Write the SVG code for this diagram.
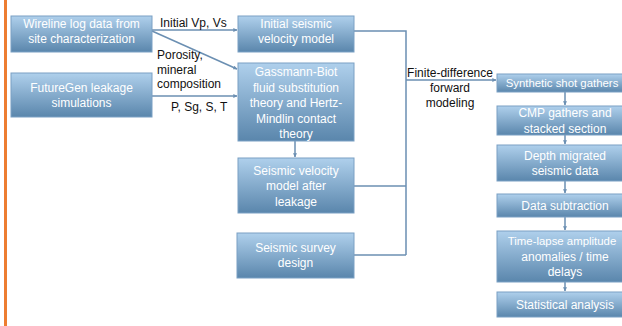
<svg xmlns="http://www.w3.org/2000/svg" width="622" height="326" viewBox="0 0 622 326">
<defs>
<linearGradient id="g" x1="0" y1="0" x2="0" y2="1">
<stop offset="0" stop-color="#afd0ec"/>
<stop offset="1" stop-color="#5a86ac"/>
</linearGradient>
<marker id="a" viewBox="0 0 6 6" refX="5.5" refY="3" markerWidth="4" markerHeight="4" orient="auto" markerUnits="userSpaceOnUse">
<path d="M0,0 L6,3 L0,6 z" fill="#6b8fb2"/>
</marker>
<style>
.box{fill:url(#g);stroke:#7aa0c4;stroke-width:1}
.bt{font-family:"Liberation Sans",Arial,sans-serif;font-size:12px;fill:#ffffff;text-anchor:middle}
.sm{font-size:11.4px}
.lb{font-family:"Liberation Sans",Arial,sans-serif;font-size:12px;fill:#111111}
.c{fill:none;stroke:#6b8fb2;stroke-width:1.5}
.ar{marker-end:url(#a)}
</style>
</defs>
<rect x="4" y="0" width="3" height="326" fill="#ed7d31"/>
<g id="connectors">
<path class="c ar" d="M152,30 L237,30"/>
<path class="c ar" d="M152,31 L237,69"/>
<path class="c ar" d="M152,96 L237,96"/>
<path class="c ar" d="M295,141 L295,157"/>
<path class="c" d="M354,31 L406,31 L406,255"/>
<path class="c" d="M354,186 L406,186"/>
<path class="c" d="M354,255 L406,255"/>
<path class="c ar" d="M406,80 L496,80"/>
<path class="c ar" d="M565,92 L565,105"/>
<path class="c ar" d="M565,135 L565,144"/>
<path class="c ar" d="M565,181 L565,193"/>
<path class="c ar" d="M565,217 L565,230"/>
<path class="c ar" d="M565,282 L565,291"/>
<text class="lb" x="160" y="27">Initial Vp, Vs</text>
<text class="lb" x="157" y="59">Porosity,</text>
<text class="lb" x="157" y="73.5">mineral</text>
<text class="lb" x="157" y="88">composition</text>
<text class="lb" x="171" y="111">P, Sg, S, T</text>
<text class="lb" x="450" y="77" text-anchor="middle">Finite-difference</text>
<text class="lb" x="450" y="92" text-anchor="middle">forward</text>
<text class="lb" x="450" y="107" text-anchor="middle">modeling</text>
</g>
<g id="wireline">
<rect class="box" x="11" y="16" width="141" height="36"/>
<text class="bt" x="81.5" y="27.5">Wireline log data from</text>
<text class="bt" x="81.5" y="42.5">site characterization</text>
</g>
<g id="futuregen">
<rect class="box" x="11" y="73" width="141" height="44"/>
<text class="bt" x="81.5" y="92">FutureGen leakage</text>
<text class="bt" x="81.5" y="107">simulations</text>
</g>
<g id="initial-model">
<rect class="box" x="238" y="16" width="116" height="36"/>
<text class="bt" x="296" y="27.5">Initial seismic</text>
<text class="bt" x="296" y="42.5">velocity model</text>
</g>
<g id="gassmann">
<rect class="box" x="238" y="63" width="116" height="78"/>
<text class="bt" x="296" y="76">Gassmann-Biot</text>
<text class="bt" x="296" y="91.5">fluid substitution</text>
<text class="bt" x="296" y="107">theory and Hertz-</text>
<text class="bt" x="296" y="122.5">Mindlin contact</text>
<text class="bt" x="296" y="138">theory</text>
</g>
<g id="after-leakage">
<rect class="box" x="238" y="158" width="116" height="55"/>
<text class="bt" x="296" y="175">Seismic velocity</text>
<text class="bt" x="296" y="190">model after</text>
<text class="bt" x="296" y="205.5">leakage</text>
</g>
<g id="survey">
<rect class="box" x="237" y="233" width="117" height="45"/>
<text class="bt" x="295.5" y="252">Seismic survey</text>
<text class="bt" x="295.5" y="267">design</text>
</g>
<g id="synthetic">
<rect class="box" x="497" y="74" width="136" height="18"/>
<text class="bt sm" x="562" y="86.5">Synthetic shot gathers</text>
</g>
<g id="cmp">
<rect class="box" x="497" y="106" width="136" height="29"/>
<text class="bt" x="565" y="117">CMP gathers and</text>
<text class="bt" x="565" y="133">stacked section</text>
</g>
<g id="depth">
<rect class="box" x="497" y="145" width="136" height="36"/>
<text class="bt" x="565" y="160">Depth migrated</text>
<text class="bt" x="565" y="174.5">seismic data</text>
</g>
<g id="subtraction">
<rect class="box" x="497" y="194" width="136" height="23"/>
<text class="bt" x="565" y="209.5">Data subtraction</text>
</g>
<g id="timelapse">
<rect class="box" x="497" y="231" width="136" height="51"/>
<text class="bt sm" x="562" y="245">Time-lapse amplitude</text>
<text class="bt" x="565" y="261">anomalies / time</text>
<text class="bt" x="565" y="276">delays</text>
</g>
<g id="statistical">
<rect class="box" x="497" y="292" width="136" height="25"/>
<text class="bt" x="565" y="309">Statistical analysis</text>
</g>
</svg>
